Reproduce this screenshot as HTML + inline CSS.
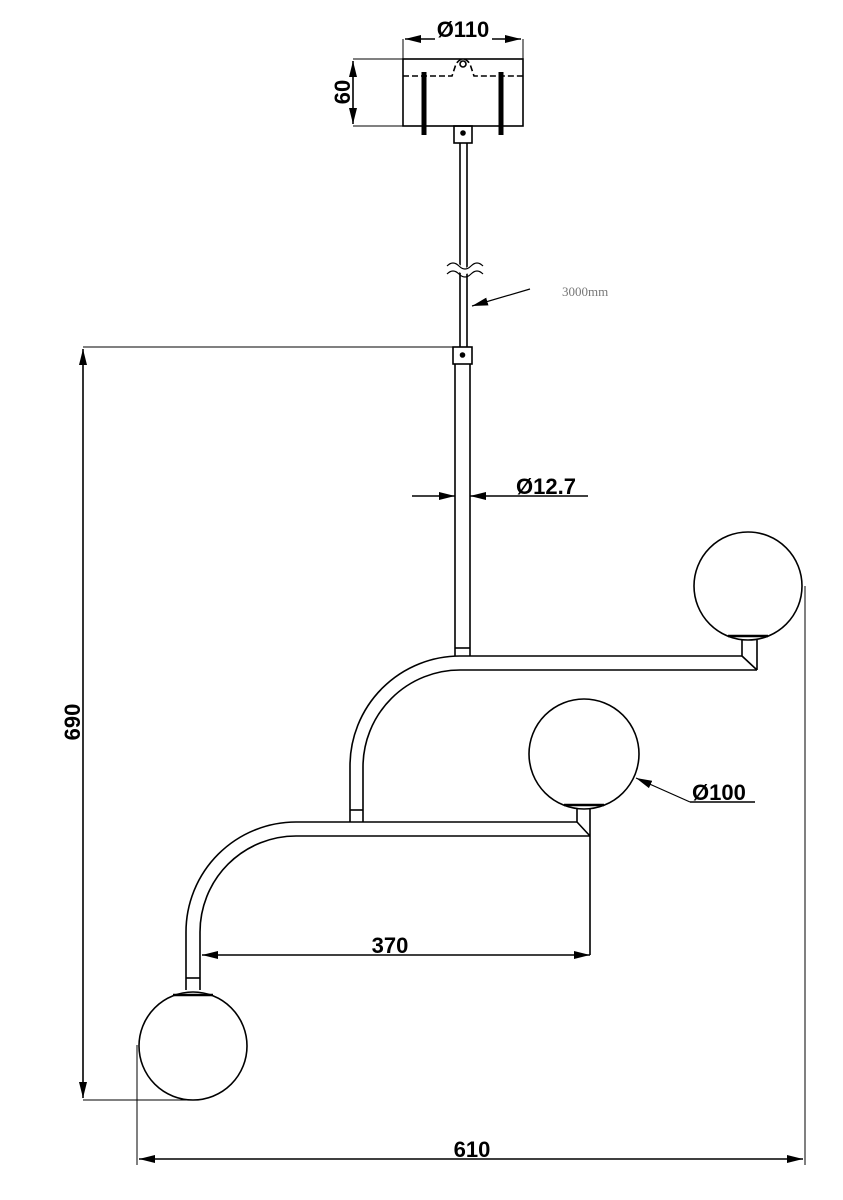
<!DOCTYPE html>
<html><head><meta charset="utf-8"><style>
html,body{margin:0;padding:0;background:#fff;}
svg{display:block;}
text{font-family:"Liberation Sans",sans-serif;font-weight:bold;fill:#000;}
</style></head><body>
<svg width="843" height="1200" viewBox="0 0 843 1200" xmlns="http://www.w3.org/2000/svg">
<defs>
<marker id="b" viewBox="0 0 16 8" refX="16" refY="4" markerWidth="16" markerHeight="8" orient="auto-start-reverse" markerUnits="userSpaceOnUse">
<path d="M0,0 L16,4 L0,8 Z" fill="#000"/></marker>
</defs>
<g fill="none" stroke="#000" stroke-width="1.6">
<rect x="403" y="59" width="120" height="67"/>
<path d="M403,76 H452 L456,64 Q463,54 470,64 L474,76 H523" stroke-dasharray="6,3"/>
<circle cx="463" cy="64" r="3"/>
<line x1="424" y1="72" x2="424" y2="135" stroke-width="5"/>
<line x1="501" y1="72" x2="501" y2="135" stroke-width="5"/>
<rect x="454" y="126" width="18" height="17"/>
<line x1="403" y1="39" x2="403" y2="59" stroke-width="1"/>
<line x1="523" y1="39" x2="523" y2="59" stroke-width="1"/>
<line x1="405" y1="39" x2="435" y2="39" marker-start="url(#b)"/>
<line x1="492" y1="39" x2="521" y2="39" marker-end="url(#b)"/>
<line x1="353" y1="59" x2="403" y2="59" stroke-width="1"/>
<line x1="353" y1="126" x2="403" y2="126" stroke-width="1"/>
<line x1="353" y1="61" x2="353" y2="124" marker-start="url(#b)" marker-end="url(#b)"/>
<line x1="460" y1="143" x2="460" y2="347"/>
<line x1="467" y1="143" x2="467" y2="347"/>
<path d="M447,268 q6,-6 12,0 t12,0 t12,0" stroke="#fff" stroke-width="6"/>
<path d="M447,266 q6,-6 12,0 t12,0 t12,0" stroke-width="1.2"/>
<path d="M447,274 q6,-6 12,0 t12,0 t12,0" stroke-width="1.2"/>
<line x1="530" y1="289" x2="472" y2="306" stroke-width="1.2" marker-end="url(#b)"/>
<rect x="453" y="347" width="19" height="17"/>
<circle cx="462.5" cy="355" r="2" fill="#000"/>
<circle cx="463" cy="133" r="2" fill="#000"/>
<line x1="455" y1="364" x2="455" y2="656"/>
<line x1="470" y1="364" x2="470" y2="656"/>
<line x1="455" y1="648" x2="470" y2="648"/>
<line x1="412" y1="496" x2="455" y2="496" marker-end="url(#b)"/>
<line x1="588" y1="496" x2="470" y2="496" marker-end="url(#b)"/>
<path d="M742,656 H460 A110,110 0 0 0 350,766 V822"/>
<path d="M757,670 H460 A97,97 0 0 0 363,767 V822"/>
<line x1="350" y1="810" x2="363" y2="810"/>
<path d="M742,656 L757,670 M742,640 V656 M757,640 V670"/>
<circle cx="748" cy="586" r="54"/>
<path d="M728,636 H768" stroke-width="2.5"/>
<path d="M577,822 H296 A110,110 0 0 0 186,932 V990"/>
<path d="M590,836 H296 A96,96 0 0 0 200,932 V990"/>
<line x1="186" y1="978" x2="200" y2="978"/>
<path d="M577,822 L590,836 M577,808 V822 M590,808 V955"/>
<circle cx="584" cy="754" r="55"/>
<path d="M564,805 H604" stroke-width="2.5"/>
<line x1="690" y1="802" x2="636" y2="778" stroke-width="1.2" marker-end="url(#b)"/>
<line x1="690" y1="802" x2="755" y2="802"/>
<circle cx="193" cy="1046" r="54"/>
<path d="M173,995 H213" stroke-width="2.5"/>
<line x1="202" y1="955" x2="590" y2="955" marker-start="url(#b)" marker-end="url(#b)"/>
<line x1="83" y1="347" x2="455" y2="347" stroke-width="1"/>
<line x1="83" y1="1100" x2="193" y2="1100" stroke-width="1"/>
<line x1="83" y1="349" x2="83" y2="1098" marker-start="url(#b)" marker-end="url(#b)"/>
<line x1="137" y1="1045" x2="137" y2="1165" stroke-width="1"/>
<line x1="805" y1="586" x2="805" y2="1165" stroke-width="1"/>
<line x1="139" y1="1159" x2="803" y2="1159" marker-start="url(#b)" marker-end="url(#b)"/>
</g>
<text x="463" y="37" font-size="22" text-anchor="middle">Ø110</text>
<text transform="translate(350,92) rotate(-90)" font-size="22" text-anchor="middle">60</text>
<text x="562" y="296" font-size="13" style="font-family:'Liberation Serif',serif;font-weight:normal;fill:#777">3000mm</text>
<text x="516" y="494" font-size="22">Ø12.7</text>
<text x="692" y="800" font-size="22">Ø100</text>
<text x="390" y="953" font-size="22" text-anchor="middle">370</text>
<text x="472" y="1157" font-size="22" text-anchor="middle">610</text>
<text transform="translate(80,722) rotate(-90)" font-size="22" text-anchor="middle">690</text>
</svg>
</body></html>
